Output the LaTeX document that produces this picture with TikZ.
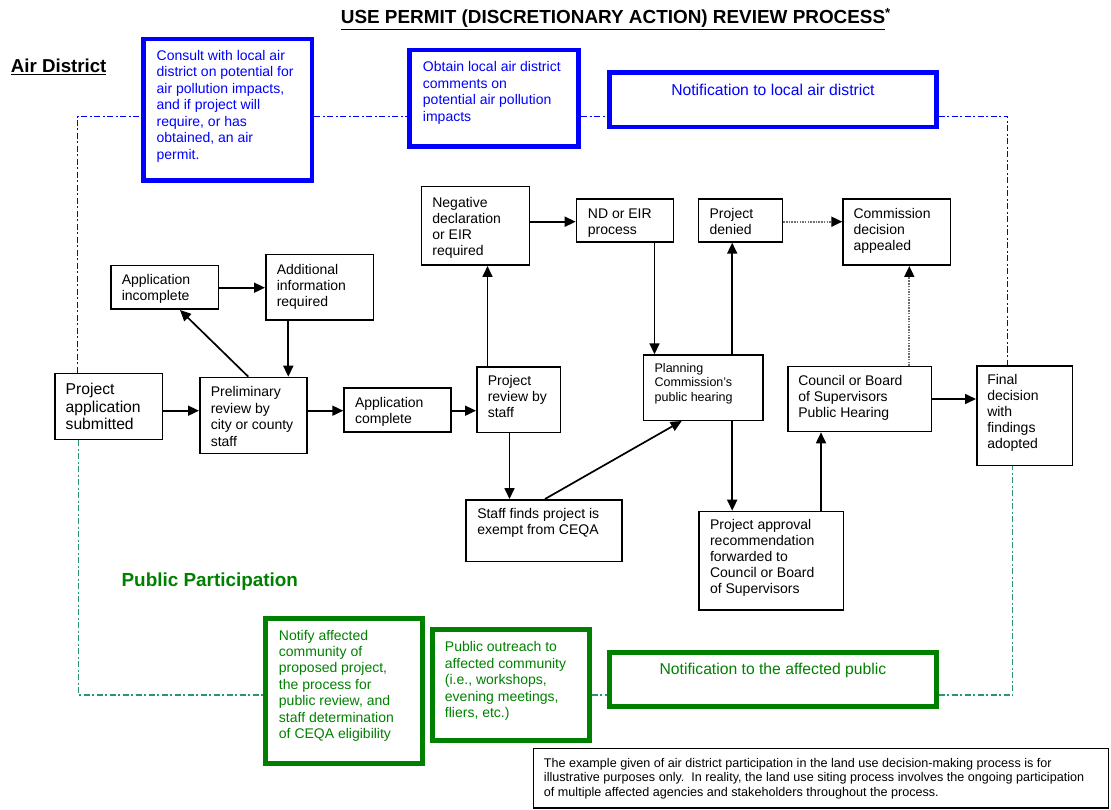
\documentclass[tikz,border=0pt]{standalone}
\usepackage{fontspec}
\setmainfont{Liberation Sans}
\usetikzlibrary{arrows.meta}
\definecolor{adblue}{RGB}{0,0,255}
\definecolor{ppgreen}{RGB}{0,128,0}
\definecolor{ddgreen}{RGB}{40,150,110}
\definecolor{dotgray}{RGB}{110,110,110}
% W, H, padtop, padleft, text
\newcommand{\bx}[5]{\parbox[c][#2pt][t]{#1pt}{\vspace*{#3pt}\raggedright\leftskip=#4pt\relax\rule{0pt}{.73em}#5\par}}
% W, H, padtop, text (centred)
\newcommand{\cx}[4]{\parbox[c][#2pt][t]{#1pt}{\vspace*{#3pt}\centering\rule{0pt}{.73em}#4\par}}
\begin{document}
\begin{tikzpicture}[x=1pt,y=-1pt,
  blk/.style={draw=black, line width=1.5pt, inner sep=0pt, anchor=north west, font=\fontsize{14pt}{16pt}\selectfont},
  bluebox/.style={draw=adblue, line width=4.7pt, text=adblue, inner sep=0pt, anchor=north west, font=\fontsize{14pt}{16.5pt}\selectfont},
  greenbox/.style={draw=ppgreen, line width=4.7pt, text=ppgreen, inner sep=0pt, anchor=north west, font=\fontsize{14pt}{16.4pt}\selectfont},
  arr/.style={line width=1.7pt, -{Triangle[length=11pt,width=10pt]}},
  dotarr/.style={draw=dotgray, line width=1.8pt, dash pattern=on 1.5pt off 1.2pt, -{Triangle[length=11pt,width=10pt,color=black,fill=black]}},
  airline/.style={draw=adblue, line width=1.5pt, dash pattern=on 6pt off 2.5pt on 2pt off 2.5pt},
  publine/.style={draw=ddgreen, line width=1.5pt, dash pattern=on 6pt off 2.5pt on 2pt off 2.5pt},
  lbl/.style={anchor=base west, inner sep=0pt},
]
\useasboundingbox (0,0) rectangle (1111,810);

% headings
\node[lbl, font=\bfseries\fontsize{18.9pt}{20pt}\selectfont] (title) at (340.7,24) {\underline{USE PERMIT (DISCRETIONARY ACTION) REVIEW PROCESS}\textsuperscript{*}};
\node[lbl, font=\bfseries\fontsize{18.7pt}{20pt}\selectfont] (airlbl) at (10.7,73) {\underline{Air District}};
\node[lbl, text=ppgreen, font=\bfseries\fontsize{18.9pt}{20pt}\selectfont] (publbl) at (121.4,586) {Public Participation};

% air district boxes
\node[bluebox] (cons) at (141,36.7) {\bx{168.6}{141.3}{11}{13.3}{Consult with local air\\district on potential for\\air pollution impacts,\\and if project will\\require, or has\\obtained, an air\\permit.}};
\node[bluebox] (obt) at (407.3,47.7) {\bx{169}{96.6}{11.6}{13.3}{Obtain local air district\\comments on\\potential air pollution\\impacts}};
\node[bluebox, font=\fontsize{15.7pt}{18pt}\selectfont] (notif) at (607.4,70) {\cx{326.4}{54.6}{11.6}{Notification to local air district}};

% public participation boxes
\node[greenbox] (notify) at (263.3,616) {\bx{157}{145}{11.6}{13.3}{Notify affected\\community of\\proposed project,\\the process for\\public review, and\\staff determination\\of CEQA eligibility}};
\node[greenbox] (outreach) at (430,627.3) {\bx{157}{110.7}{12}{12.6}{Public outreach to\\affected community\\(i.e., workshops,\\evening meetings,\\fliers, etc.)}};
\node[greenbox, font=\fontsize{15.7pt}{18pt}\selectfont] (pubnot) at (607.4,650) {\cx{326.4}{54.3}{10.6}{Notification to the affected public}};

% process boxes
\node[blk, font=\fontsize{15.7pt}{17.5pt}\selectfont] (app) at (54.3,372.7) {\bx{107.5}{65.8}{10}{10.6}{Project\\application\\submitted}};
\node[blk, font=\fontsize{14pt}{16.5pt}\selectfont] (prelim) at (199,376.7) {\bx{107.2}{76.1}{9}{11}{Preliminary\\review by\\city or county\\staff}};
\node[blk] (appc) at (343.3,387.3) {\bx{106.9}{43.9}{9.4}{11}{Application\\complete}};
\node[blk] (prev) at (476,366) {\bx{83.5}{65.5}{9}{11}{Project\\review by\\staff}};
\node[blk] (appinc) at (110,265) {\bx{107.5}{43.5}{9}{11}{Application\\incomplete}};
\node[blk] (addl) at (265,254) {\bx{107.8}{65.5}{9.3}{11}{Additional\\information\\required}};
\node[blk] (neg) at (420.7,186) {\bx{107.8}{78.5}{10.8}{10.9}{Negative\\declaration\\or EIR\\required}};
\node[blk] (ndeir) at (575.7,198.3) {\bx{96.8}{42.9}{9}{11.5}{ND or EIR\\process}};
\node[blk] (denied) at (697.7,198.3) {\bx{84.1}{42.9}{9}{11.2}{Project\\denied}};
\node[blk] (appealed) at (842.3,198.3) {\bx{107.2}{66.2}{9}{10.5}{Commission\\decision\\appealed}};
\node[blk, font=\fontsize{12.5pt}{14.7pt}\selectfont] (plan) at (642.7,354.3) {\bx{119.5}{65.2}{8.1}{11.2}{Planning\\Commission's\\public hearing}};
\node[blk] (council) at (787.3,365.7) {\bx{143.5}{65.1}{9}{10.2}{Council or Board\\of Supervisors\\Public Hearing}};
\node[blk] (final) at (976,365) {\bx{95.8}{99.5}{9}{10.5}{Final\\decision\\with\\findings\\adopted}};
\node[blk] (staff) at (465,499) {\bx{156.2}{61.8}{9}{11.5}{Staff finds project is\\exempt from CEQA}};
\node[blk] (appr) at (698.3,510.7) {\bx{144.2}{98.5}{8.3}{11}{Project approval\\recommendation\\forwarded to\\Council or Board\\of Supervisors}};

% disclaimer
\node[blk, font=\fontsize{12.6pt}{14.2pt}\selectfont] (disc) at (532.7,747.7) {\bx{574.8}{59.3}{10}{10.5}{The example given of air district participation in the land use decision-making process is for\\illustrative purposes only.\ \ In reality, the land use siting process involves the ongoing participation\\of multiple affected agencies and stakeholders throughout the process.}};

% connectors
\draw[arr] (app.east |- 0,410.7) -- (prelim.west |- 0,410.7);
\draw[arr] (prelim.east |- 0,410.7) -- (appc.west |- 0,410.7);
\draw[arr] (appc.east |- 0,410.7) -- (prev.west |- 0,410.7);
\draw[arr] (prelim.north -| 248.3,0) -- (appinc.south -| 180,0);
\draw[arr] (appinc.east |- 0,287.7) -- (addl.west |- 0,287.7);
\draw[arr] (addl.south -| 288.3,0) -- (prelim.north -| 288.3,0);
\draw[arr] (prev.north -| 487.5,0) -- (neg.south -| 487.5,0);
\draw[arr] (neg.east |- 0,221.7) -- (ndeir.west |- 0,221.7);
\draw[arr] (ndeir.south -| 654.5,0) -- (plan.north -| 654.5,0);
\draw[arr] (prev.south -| 509.5,0) -- (staff.north -| 509.5,0);
\draw[arr] (staff.north -| 545,0) -- (plan.south -| 681.7,0);
\draw[arr] (plan.north -| 732.2,0) -- (denied.south -| 732.2,0);
\draw[arr] (plan.south -| 732.2,0) -- (appr.north -| 732.2,0);
\draw[arr] (appr.north -| 821,0) -- (council.south -| 821,0);
\draw[arr] (council.east |- 0,399) -- (final.west |- 0,399);
\draw[dotarr] (council.north -| 909.3,0) -- (appealed.south -| 909.3,0);
\draw[dotarr] (denied.east |- 0,221.7) -- (appealed.west |- 0,221.7);

% air district line
\draw[airline] (app.north -| 77.3,0) |- (cons.west |- 0,116.7);
\draw[airline] (cons.east |- 0,116.7) -- (obt.west |- 0,116.7);
\draw[airline] (obt.east |- 0,116.7) -- (notif.west |- 0,116.7);
\draw[airline] (notif.east |- 0,116.7) -| (final.north -| 1007.7,0);

% public participation line
\draw[publine] (app.south -| 78.7,0) |- (notify.west |- 0,695);
\draw[publine] (outreach.east |- 0,695) -- (pubnot.west |- 0,695);
\draw[publine] (pubnot.east |- 0,695) -| (final.south -| 1012.7,0);
\end{tikzpicture}
\end{document}
